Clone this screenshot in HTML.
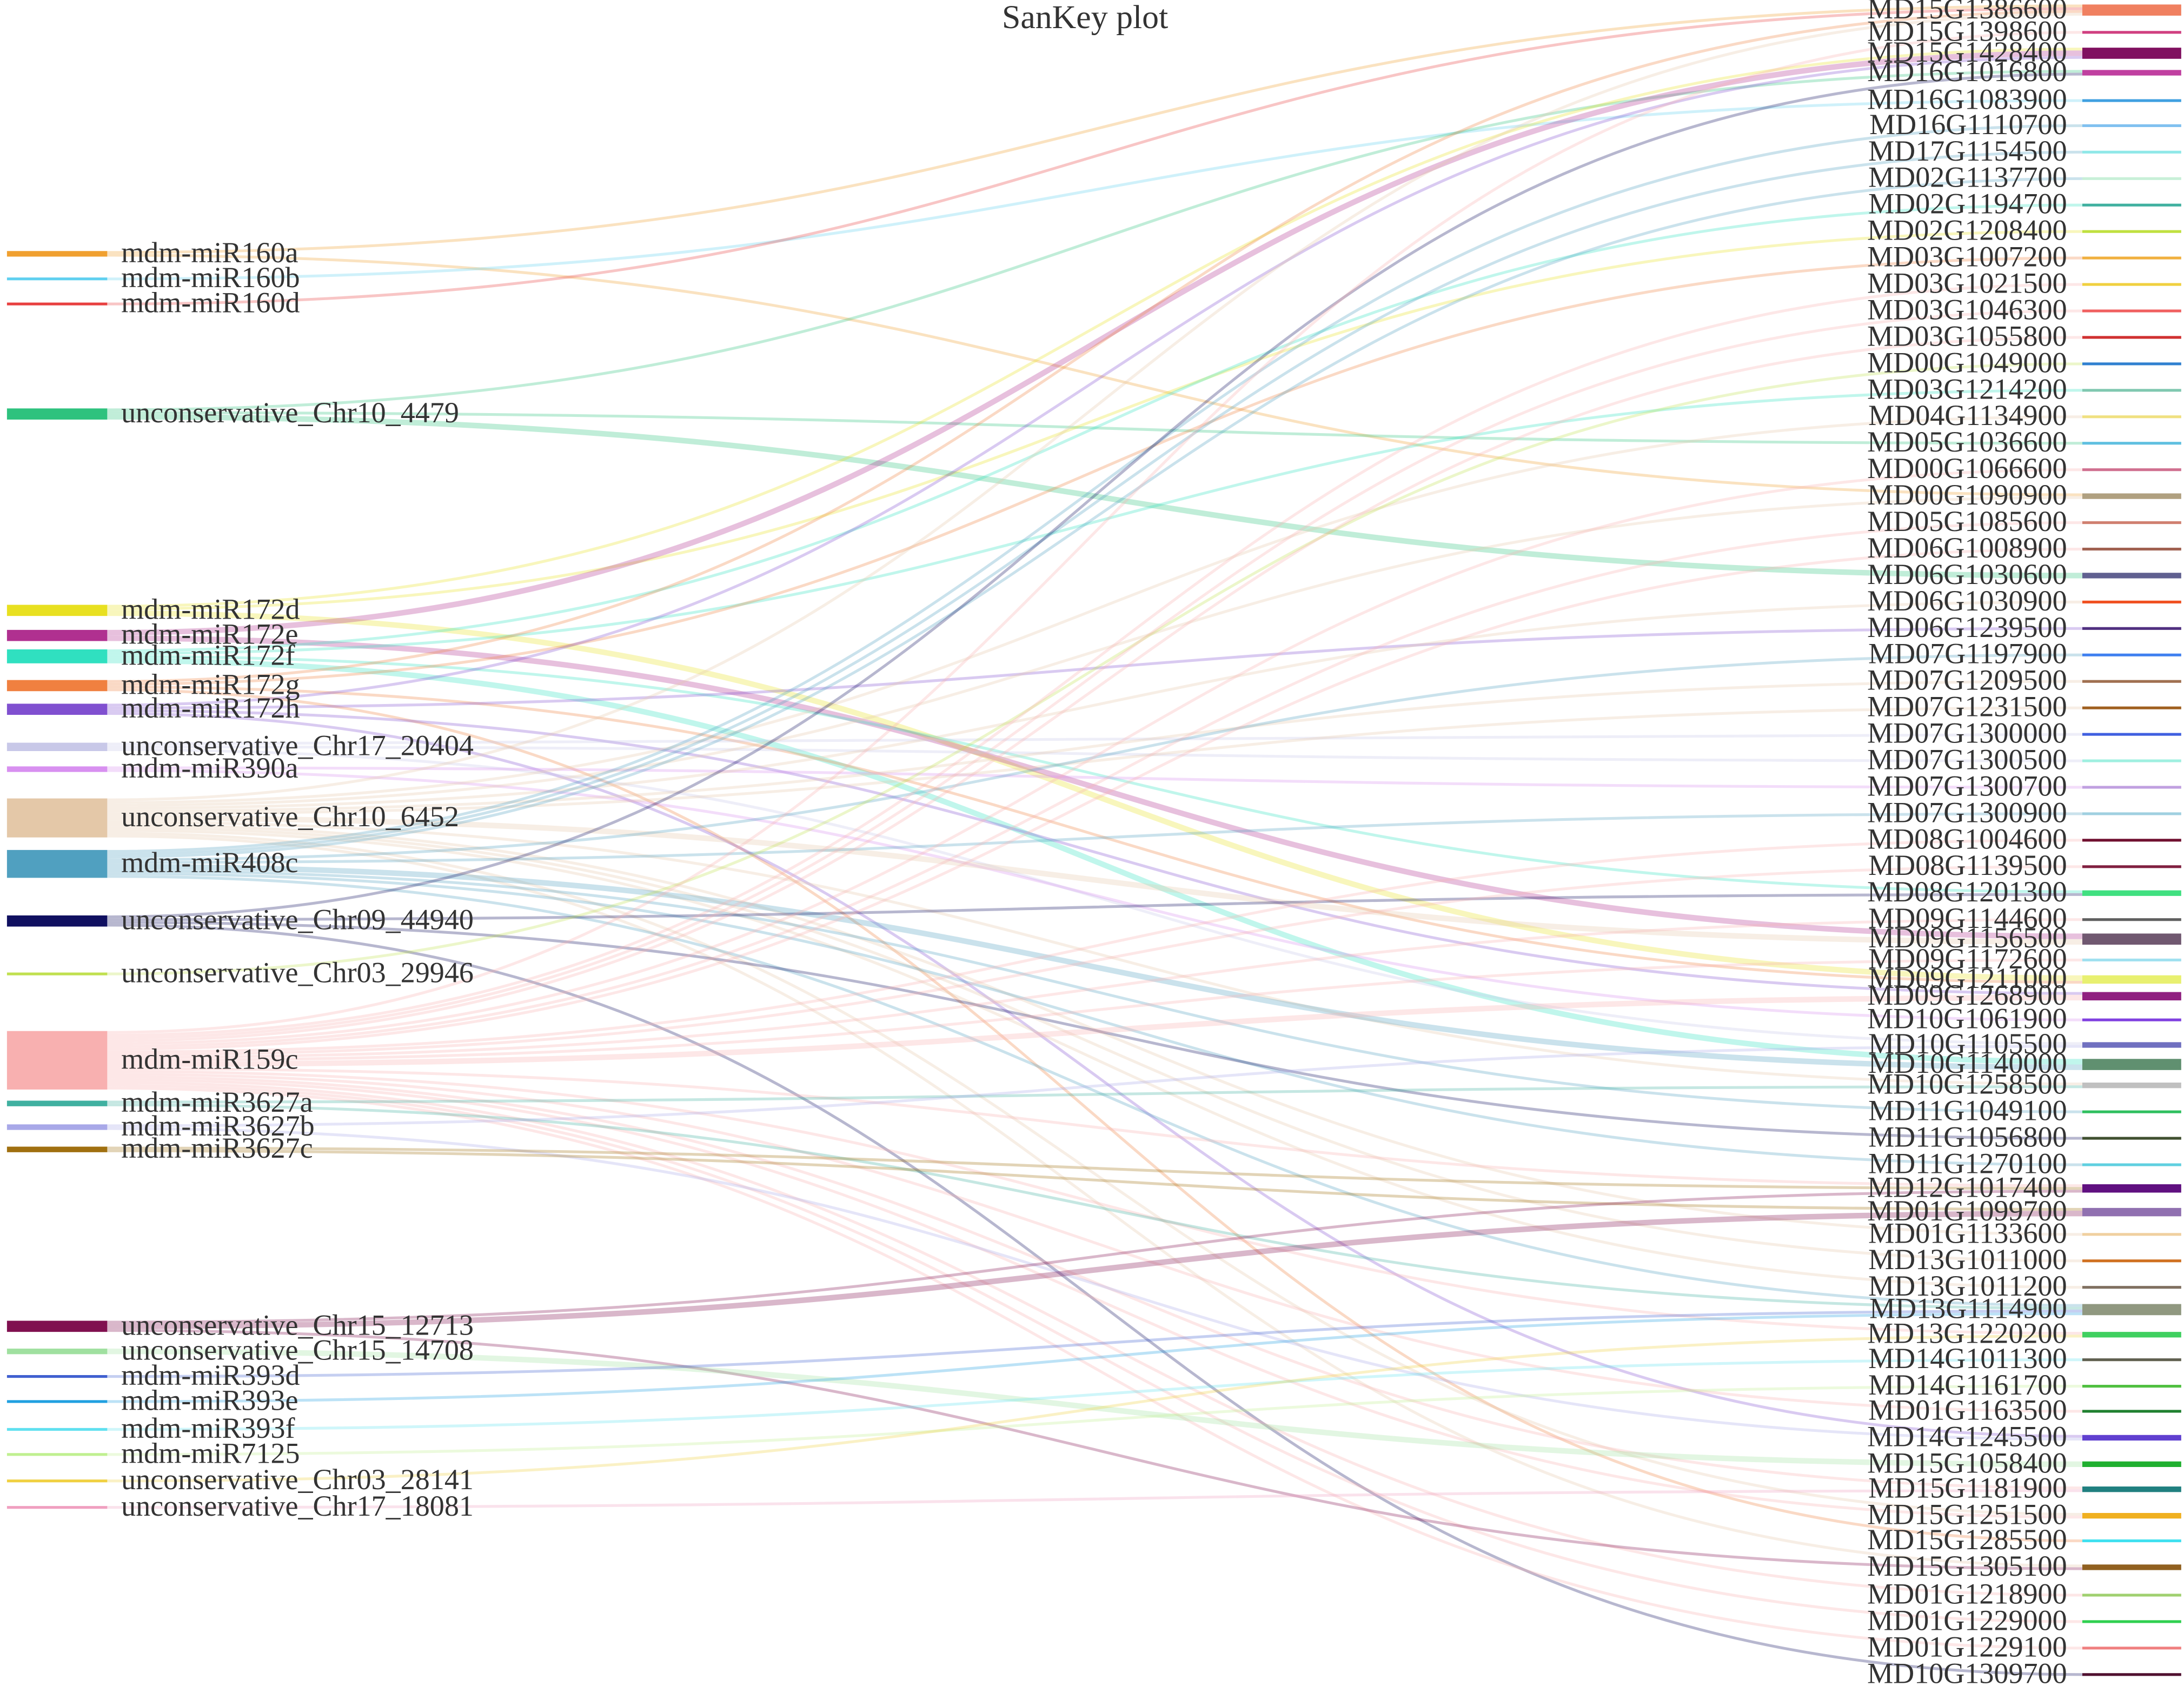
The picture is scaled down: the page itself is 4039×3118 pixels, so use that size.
<!DOCTYPE html>
<html><head><meta charset="utf-8"><style>
html,body{margin:0;padding:0;background:#fff;}
svg{display:block;}
text{font-family:"Liberation Serif",serif;fill:#333;}
</style></head><body>
<svg id="chart" width="4039" height="3118" viewBox="0 0 1568 1210" xmlns="http://www.w3.org/2000/svg">
<text x="779" y="20" font-size="24" text-anchor="middle">SanKey plot</text>
<g id="links"></g>
<g id="nodes"></g>
</svg>
<script>
const leftNames=["mdm-miR160a","mdm-miR160b","mdm-miR160d","unconservative_Chr10_4479","mdm-miR172d","mdm-miR172e","mdm-miR172f","mdm-miR172g","mdm-miR172h","unconservative_Chr17_20404","mdm-miR390a","unconservative_Chr10_6452","mdm-miR408c","unconservative_Chr09_44940","unconservative_Chr03_29946","mdm-miR159c","mdm-miR3627a","mdm-miR3627b","mdm-miR3627c","unconservative_Chr15_12713","unconservative_Chr15_14708","mdm-miR393d","mdm-miR393e","mdm-miR393f","mdm-miR7125","unconservative_Chr03_28141","unconservative_Chr17_18081"];
const leftY=[182,200,218,297,438,456,471,492,509,536,552,587,620,661,699,761,792,809,825,952,970,988,1006,1026,1044,1063,1082];
const leftColors=["#f0a030","#5fd0f0","#e84040","#2ec27e","#e8e020","#b03090","#30e0c0","#f08040","#8050d0","#c8c8e8","#d890f0","#e4c8a8","#50a0c0","#101060","#c0e050","#f8b0b0","#40b0a0","#a8a8e8","#a07010","#801050","#a0e0a0","#4060d0","#20a0e0","#60e0f0","#c0f090","#f0d040","#f0a0c0"];
const rightNames=["MD15G1386600","MD15G1398600","MD15G1428400","MD16G1016800","MD16G1083900","MD16G1110700","MD17G1154500","MD02G1137700","MD02G1194700","MD02G1208400","MD03G1007200","MD03G1021500","MD03G1046300","MD03G1055800","MD00G1049000","MD03G1214200","MD04G1134900","MD05G1036600","MD00G1066600","MD00G1090900","MD05G1085600","MD06G1008900","MD06G1030600","MD06G1030900","MD06G1239500","MD07G1197900","MD07G1209500","MD07G1231500","MD07G1300000","MD07G1300500","MD07G1300700","MD07G1300900","MD08G1004600","MD08G1139500","MD08G1201300","MD09G1144600","MD09G1156500","MD09G1172600","MD09G1211000","MD09G1268900","MD10G1061900","MD10G1105500","MD10G1140000","MD10G1258500","MD11G1049100","MD11G1056800","MD11G1270100","MD12G1017400","MD01G1099700","MD01G1133600","MD13G1011000","MD13G1011200","MD13G1114900","MD13G1220200","MD14G1011300","MD14G1161700","MD01G1163500","MD14G1245500","MD15G1058400","MD15G1181900","MD15G1251500","MD15G1285500","MD15G1305100","MD01G1218900","MD01G1229000","MD01G1229100","MD10G1309700"];
const rightY=[7,23,38,52,72,90,109,128,147,166,185,204,223,242,261,280,299,318,337,356,375,394,413,432,451,470,489,508,527,546,565,584,603,622,641,660,674,689,703,715,732,750,764,779,798,817,836,853,870,886,905,924,940,958,976,995,1013,1032,1051,1069,1088,1106,1125,1145,1164,1183,1202];
const rightColors=["#f08060","#d04080","#801060","#c040a0","#40a0e0","#80c0f0","#90e8e8","#c8f0d8","#40b0a0","#c0e040","#f0b040","#f0d040","#f06060","#d03030","#3080d0","#80c8b0","#f0e080","#60c0e0","#d07090","#b0a080","#d08070","#a06050","#606090","#f05020","#503080","#4080f0","#a07050","#a06020","#4060e0","#a0f0e0","#c0a0e0","#a0d0e0","#701030","#802040","#40e080","#606060","#705870","#a0e0f0","#e8f070","#902080","#8040e0","#7070c0","#609070","#c0c0c0","#30c060","#405030","#60d0e0","#601080","#9070b0","#f0d0a0","#d07020","#807060","#909880","#40d060","#606050","#50c040","#208030","#6040d0","#20b030","#208080","#f0b020","#40e0f0","#906020","#a0d070","#30d050","#f08080","#501030"];
const linkSource=[0,0,1,2,3,3,3,4,4,4,5,5,6,6,6,6,7,7,7,7,8,8,8,8,9,9,9,10,10,11,11,11,11,11,11,11,11,11,11,11,11,11,12,12,12,12,12,12,12,12,12,13,13,13,13,14,15,15,15,15,15,15,15,15,15,15,15,15,15,15,15,15,15,15,15,15,16,16,17,17,18,18,19,19,19,20,21,22,23,24,25,26];
const linkTarget=[0,19,4,0,3,17,22,2,9,38,2,36,8,42,34,15,0,10,38,61,2,39,57,24,41,28,29,30,40,0,16,19,23,26,27,36,43,49,51,62,60,50,5,25,42,52,46,7,31,44,6,3,34,45,66,14,12,13,1,39,65,60,63,64,18,11,32,33,47,53,59,20,21,37,56,35,52,43,57,41,47,48,48,47,62,58,52,52,54,55,53,59];
const linkValue=[1,1,1,1,1,1,2,1,1,2,2,2,1,2,1,1,1,1,1,1,1,1,1,1,1,1,1,1,1,1,1,1,1,1,1,2,1,1,1,1,1,1,1,1,2,1,1,1,1,1,1,1,1,1,1,1,1,1,1,2,1,1,1,1,1,1,1,1,1,1,1,1,1,1,1,1,1,1,1,1,1,1,2,1,1,2,1,1,1,1,1,1];

const NS="http://www.w3.org/2000/svg";
const K=2, LX0=5, LX1=77, RX0=1495, RX1=1566;
const nL=leftNames.length, nR=rightNames.length;
const outSum=new Array(nL).fill(0), inSum=new Array(nR).fill(0);
for(let i=0;i<linkSource.length;i++){outSum[linkSource[i]]+=linkValue[i];inSum[linkTarget[i]]+=linkValue[i];}
const lh=outSum.map(v=>Math.max(2,v*K)), rh=inSum.map(v=>Math.max(2,v*K));
const order=linkSource.map((_,i)=>i);
const lOff=lh.map((h,i)=>leftY[i]-h/2), rOff=rh.map((h,i)=>rightY[i]-h/2);
const sY={}, tY={};
[...order].sort((a,b)=>rightY[linkTarget[a]]-rightY[linkTarget[b]]).forEach(i=>{const s=linkSource[i],w=linkValue[i]*K;sY[i]=lOff[s]+w/2;lOff[s]+=w;});
[...order].sort((a,b)=>leftY[linkSource[a]]-leftY[linkSource[b]]).forEach(i=>{const t=linkTarget[i],w=linkValue[i]*K;tY[i]=rOff[t]+w/2;rOff[t]+=w;});
const lg=document.getElementById('links');
order.forEach(i=>{
  const p=document.createElementNS(NS,'path');
  const y0=sY[i],y1=tY[i],xm=(LX1+RX0)/2;
  p.setAttribute('d',`M${LX1},${y0} C${xm},${y0} ${xm},${y1} ${RX0},${y1}`);
  p.setAttribute('fill','none');
  p.setAttribute('stroke',leftColors[linkSource[i]]);
  p.setAttribute('stroke-opacity','0.3');
  p.setAttribute('stroke-width',linkValue[i]*K);
  
  
  lg.appendChild(p);
});
const ng=document.getElementById('nodes');
leftNames.forEach((n,i)=>{
  const r=document.createElementNS(NS,'rect');
  r.setAttribute('x',LX0);r.setAttribute('y',leftY[i]-lh[i]/2);r.setAttribute('width',LX1-LX0);r.setAttribute('height',lh[i]);r.setAttribute('fill',leftColors[i]);
  
  
  ng.appendChild(r);
  const t=document.createElementNS(NS,'text');
  t.setAttribute('x',87);t.setAttribute('y',leftY[i]+6);t.setAttribute('font-size',21);t.textContent=n;
  
  
  ng.appendChild(t);
});
rightNames.forEach((n,i)=>{
  const r=document.createElementNS(NS,'rect');
  r.setAttribute('x',RX0);r.setAttribute('y',rightY[i]-rh[i]/2);r.setAttribute('width',RX1-RX0);r.setAttribute('height',rh[i]);r.setAttribute('fill',rightColors[i]);
  
  
  ng.appendChild(r);
  const t=document.createElementNS(NS,'text');
  t.setAttribute('x',1484);t.setAttribute('y',rightY[i]+6);t.setAttribute('font-size',21);t.setAttribute('text-anchor','end');t.textContent=n;
  
  
  ng.appendChild(t);
});
</script>
</body></html>
